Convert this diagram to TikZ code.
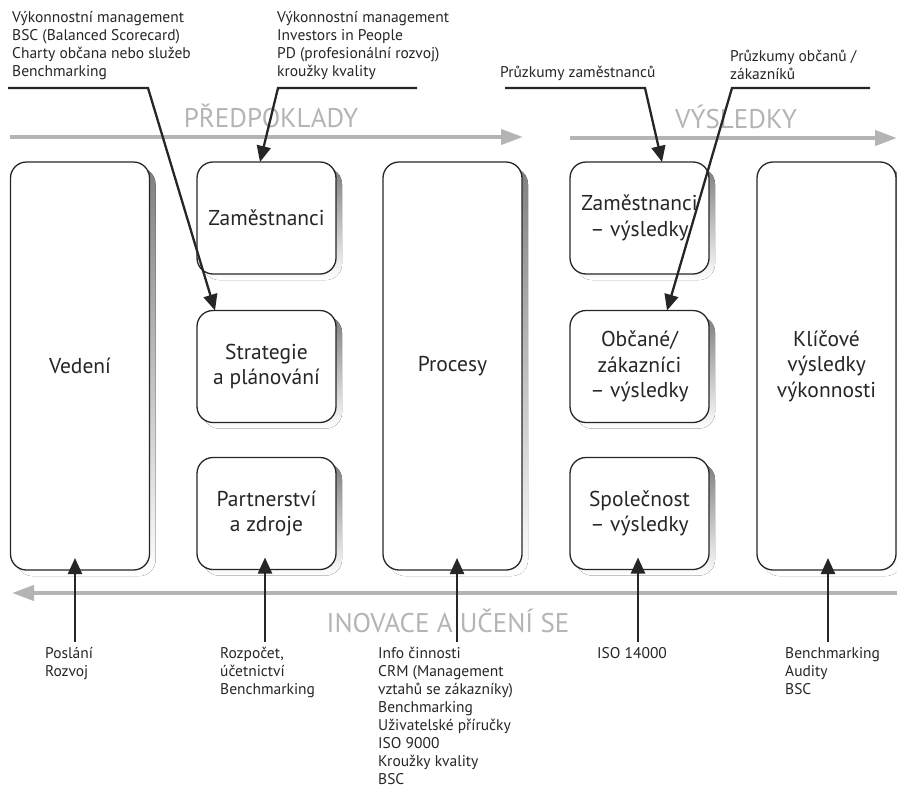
\documentclass[tikz,border=0pt]{standalone}
\usepackage{fontspec}
\setmainfont{PT Sans}
\usepackage{tikz}
\usetikzlibrary{arrows.meta,positioning,backgrounds,calc}
\definecolor{ink}{HTML}{262626}
\definecolor{flowgray}{HTML}{B4B4B4}
\definecolor{shade}{HTML}{C8C8C8}

\begin{document}
\begin{tikzpicture}[x=1pt,y=-1pt,
  area/.style={draw=ink, line width=1.3pt, rounded corners=16pt, fill=white, minimum width=139pt, align=center, font=\fontsize{21.5}{25.5}\selectfont, text=ink, outer sep=0pt},
  pillar/.style={area, minimum height=408pt},
  block/.style={area, minimum height=112pt},
  note/.style={anchor=north west, inner sep=0pt, align=left, font=\fontsize{15.5}{18}\selectfont, text=ink},
  phase/.style={anchor=base, inner sep=0pt, font=\fontsize{27}{30}\selectfont, text=flowgray},
  flow/.style={line width=4pt, draw=flowgray, -{Triangle[length=22pt,width=15pt]}},
  pointer/.style={line width=2.3pt, draw=ink, -{Triangle[length=16pt,width=14pt]}}
]
  \useasboundingbox (0,0) rectangle (897,790);

  % the nine areas
  \node[pillar] (lead) at (80,366) {Vedení};
  \node[block] (staff) at (266.5,218) {Zaměstnanci};
  \node[block] (strat) at (266.5,366.5) {Strategie\\a plánování};
  \node[block] (partner) at (266.5,513.5) {Partnerství\\a zdroje};
  \node[pillar] (proc) at (452.5,366) {Procesy};
  \node[block] (staffres) at (639.5,218) {Zaměstnanci\\– výsledky};
  \node[block] (citres) at (639.5,366.5) {Občané/\\zákazníci\\– výsledky};
  \node[block] (socres) at (639.5,513.5) {Společnost\\– výsledky};
  \node[pillar] (keyres) at (826.5,366) {Klíčové\\výsledky\\výkonnosti};

  % shadows
  \begin{pgfonlayer}{background}
    \foreach \n in {lead,staff,strat,partner,proc,staffres,citres,socres,keyres}
      \fill[shade, rounded corners=16pt] ([shift={(6pt,-6pt)}]\n.south west) rectangle ([shift={(6pt,-6pt)}]\n.north east);
  \end{pgfonlayer}

  % grey flow arrows
  \coordinate (f1a) at (10,137);
  \coordinate (f1b) at (523,137);
  \coordinate (f2a) at (570,138);
  \coordinate (f2b) at (897,138);
  \coordinate (f3a) at (897,593);
  \coordinate (f3b) at (12,593);
  \draw[flow] (f1a) -- (f1b);
  \draw[flow] (f2a) -- (f2b);
  \draw[flow] (f3a) -- (f3b);
  \node[phase] (pre) at (271,127) {PŘEDPOKLADY};
  \node[phase] (res) at (736,128) {VÝSLEDKY};
  \node[phase] (inn) at (448,632) {INOVACE A UČENÍ SE};

  % tools above
  \node[note] (tA) at (12,11) {Výkonnostní management\\BSC (Balanced Scorecard)\\Charty občana nebo služeb\\Benchmarking};
  \node[note] (tB) at (277,11) {Výkonnostní management\\Investors in People\\PD (profesionální rozvoj)\\kroužky kvality};
  \node[note] (tC) at (500,66) {Průzkumy zaměstnanců};
  \node[note] (tD) at (730,50) {Průzkumy občanů /\\zákazníků};

  \coordinate (k1a) at (8,88);
  \coordinate (k1b) at (148,88);
  \coordinate (k2a) at (417,88);
  \coordinate (k2b) at (278,88);
  \coordinate (k3a) at (505,88);
  \coordinate (k3b) at (645,88);
  \coordinate (k4a) at (870,88);
  \coordinate (k4b) at (732,88);
  \draw[pointer] (k1a) -- (k1b) -- ([xshift=18pt]strat.north west);
  \draw[pointer] (k2a) -- (k2b) -- ([xshift=-6.5pt]staff.north);
  \draw[pointer] (k3a) -- (k3b) -- ([xshift=22.5pt]staffres.north);
  \draw[pointer] (k4a) -- (k4b) -- ([xshift=27.5pt]citres.north);

  % tools below
  \node[note] (bA) at (45,647) {Poslání\\Rozvoj};
  \node[note] (bB) at (220,647) {Rozpočet,\\účetnictví\\Benchmarking};
  \node[note] (bC) at (378,647) {Info činnosti\\CRM (Management\\vztahů se zákazníky)\\Benchmarking\\Uživatelské příručky\\ISO 9000\\Kroužky kvality\\BSC};
  \node[note] (bD) at (597,647) {ISO 14000};
  \node[note] (bE) at (785,647) {Benchmarking\\Audity\\BSC};

  \coordinate (bLead) at (75,642);
  \coordinate (bPart) at (265,642);
  \coordinate (bProc) at (457,642);
  \coordinate (bSoc) at (638,642);
  \coordinate (bKey) at (828,642);
  \draw[pointer] (bLead) -- ($(bLead |- lead.south)+(0,-12)$);
  \draw[pointer] (bPart) -- ($(bPart |- partner.south)+(0,-12)$);
  \draw[pointer] (bProc) -- ($(bProc |- proc.south)+(0,-12)$);
  \draw[pointer] (bSoc) -- ($(bSoc |- socres.south)+(0,-12)$);
  \draw[pointer] (bKey) -- ($(bKey |- keyres.south)+(0,-12)$);
\end{tikzpicture}
\end{document}
